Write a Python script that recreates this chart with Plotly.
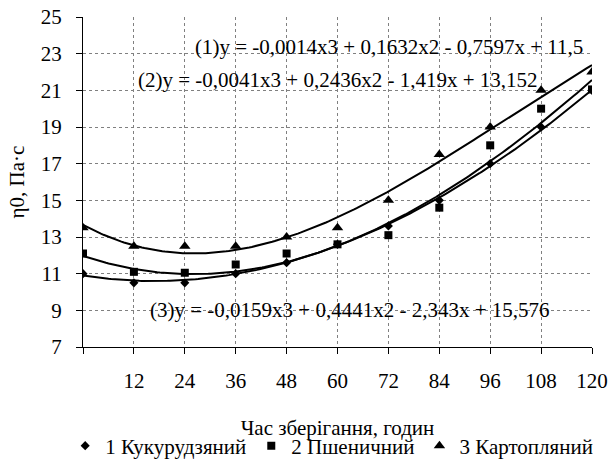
import numpy as np
import plotly.graph_objects as go

# Data
hours = [0, 12, 24, 36, 48, 60, 72, 84, 96, 108, 120]
tick_labels = ["", "12", "24", "36", "48", "60", "72", "84", "96", "108", "120"]

corn = [11.0, 10.5, 10.5, 11.0, 11.6, 12.6, 13.6, 15.0, 17.0, 19.0, 21.0]
wheat = [12.1, 11.1, 11.05, 11.5, 12.1, 12.6, 13.1, 14.6, 18.0, 20.0, 21.05]
potato = [13.5, 12.5, 12.5, 12.5, 13.0, 13.5, 15.0, 17.5, 19.0, 21.0, 22.0]

series_names = ["1 Кукурудзяний", "2 Пшеничний", "3 Картопляний"]

# Trendline coefficients (x = point index 1..11), as printed on the chart
coef1 = [-0.0014, 0.1632, -0.7597, 11.5]
coef2 = [-0.0041, 0.2436, -1.419, 13.152]
coef3 = [-0.0159, 0.4441, -2.343, 15.576]

eq1 = "(1)y = -0,0014x3 + 0,1632x2 - 0,7597x + 11,5"
eq2 = "(2)y = -0,0041x3 + 0,2436x2 - 1,419x + 13,152"
eq3 = "(3)y = -0,0159x3 + 0,4441x2 - 2,343x + 15,576"

FONT = "Liberation Serif, Times New Roman, serif"
FS = 21

fig = go.Figure()

# trendlines
step = hours[1] - hours[0]
xs_idx = np.linspace(1, len(hours), 200)
xs_hours = (xs_idx - 1) * step
for coef in (coef1, coef2, coef3):
    fig.add_trace(go.Scatter(x=xs_hours, y=np.polyval(coef, xs_idx), mode="lines",
                             line=dict(color="black", width=2), showlegend=False,
                             hoverinfo="skip"))

fig.add_trace(go.Scatter(x=hours, y=corn, mode="markers", name=series_names[0],
                         marker=dict(symbol="diamond", size=7, color="black")))
fig.add_trace(go.Scatter(x=hours, y=wheat, mode="markers", name=series_names[1],
                         marker=dict(symbol="square", size=8, color="black")))
fig.add_trace(go.Scatter(x=hours, y=potato, mode="markers", name=series_names[2],
                         marker=dict(symbol="triangle-up", size=10, color="black")))

fig.add_annotation(x=118.3, y=23.36, xref="x", yref="y", text=eq1, showarrow=False,
                   xanchor="right", yanchor="middle", font=dict(family=FONT, size=FS, color="black"))
fig.add_annotation(x=107.7, y=21.56, xref="x", yref="y", text=eq2, showarrow=False,
                   xanchor="right", yanchor="middle", font=dict(family=FONT, size=FS, color="black"))
fig.add_annotation(x=110.6, y=9.0, xref="x", yref="y", text=eq3, showarrow=False,
                   xanchor="right", yanchor="middle", font=dict(family=FONT, size=FS, color="black"))

fig.update_layout(
    template="none",
    width=611, height=462,
    margin=dict(l=83, r=19, t=17, b=115, autoexpand=False),
    paper_bgcolor="white", plot_bgcolor="white",
    font=dict(family=FONT, size=FS, color="black"),
    showlegend=True,
    legend=dict(orientation="h", x=-0.035, xanchor="left", y=-0.30, yanchor="middle",
                font=dict(family=FONT, size=FS, color="black"),
                itemwidth=30, tracegroupgap=0, bgcolor="rgba(0,0,0,0)"),
    xaxis=dict(range=[0, 120], tickvals=hours, ticktext=tick_labels, automargin=False,
               showgrid=True, gridcolor="#808080", griddash="dot", gridwidth=1,
               showline=True, linecolor="black", linewidth=1,
               ticks="outside", ticklen=6, tickcolor="black",
               ticklabelstandoff=9, ticklabeloverflow="allow", zeroline=False,
               title=dict(text="Час зберігання, годин", standoff=28,
                          font=dict(family=FONT, size=FS, color="black"))),
    yaxis=dict(range=[7, 25], tickvals=list(range(7, 26, 2)), automargin=False,
               showgrid=True, gridcolor="#808080", griddash="dot", gridwidth=1,
               showline=True, linecolor="black", linewidth=1,
               ticks="outside", ticklen=6, tickcolor="black",
               ticklabelstandoff=10, ticklabeloverflow="allow", zeroline=False,
               title=dict(text="η0, Па·с", standoff=10,
                          font=dict(family=FONT, size=FS, color="black"))),
)

# remove the browser's default page margin so the figure fills the window exactly
fig.write_html("out.html", config={"displayModeBar": False},
               post_script="document.body.style.margin='0';document.body.style.overflow='hidden';")
